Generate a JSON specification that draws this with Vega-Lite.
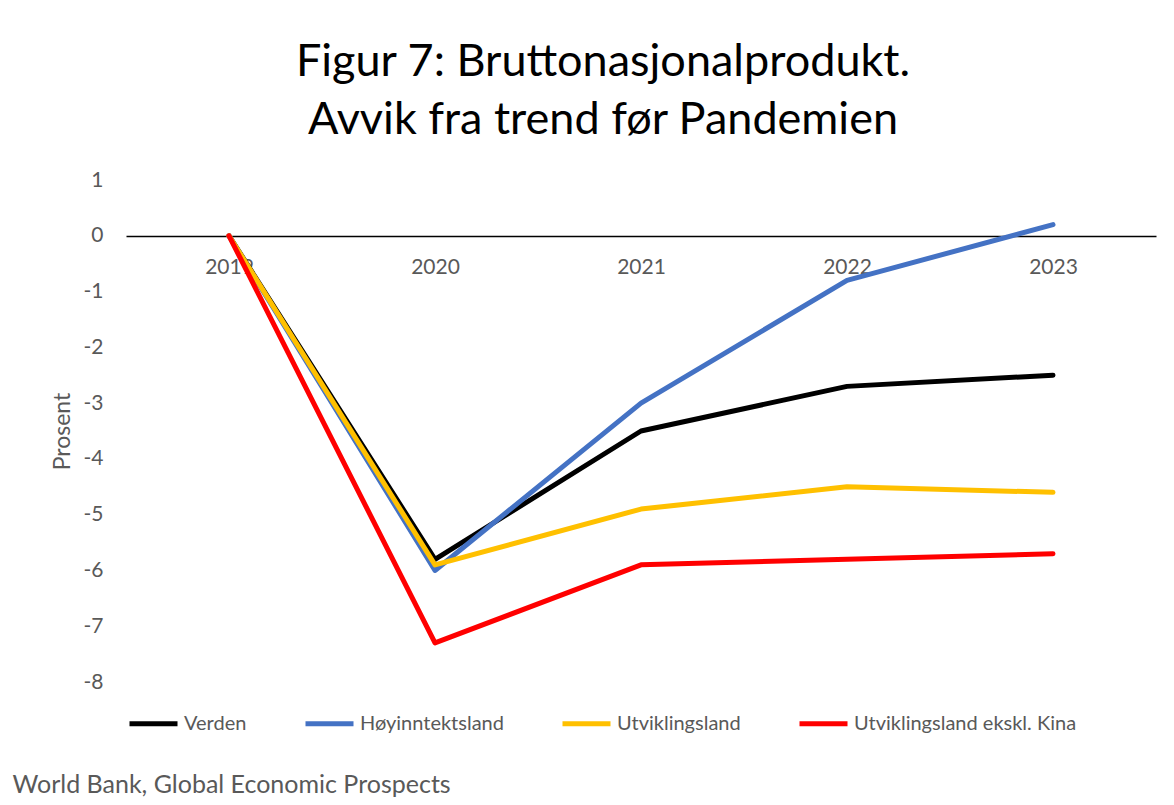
{
  "$schema": "https://vega.github.io/schema/vega-lite/v6.json",
  "autosize": "none",
  "width": 1030,
  "height": 502,
  "padding": {"left": 126, "top": 180, "right": 18, "bottom": 123},
  "background": "white",
  "config": {
    "view": {"stroke": null},
    "font": "Lato"
  },
  "title": {
    "text": ["Figur 7: Bruttonasjonalprodukt.", "Avvik fra trend før Pandemien"],
    "fontSize": 45,
    "font": "Lato",
    "fontWeight": "normal",
    "color": "#000000",
    "lineHeight": 58,
    "anchor": "middle",
    "dx": -38,
    "offset": 26
  },
  "data": {
    "values": [
      {"year": "2019", "serie": "Verden", "verdi": 0},
      {"year": "2020", "serie": "Verden", "verdi": -5.8},
      {"year": "2021", "serie": "Verden", "verdi": -3.5},
      {"year": "2022", "serie": "Verden", "verdi": -2.7},
      {"year": "2023", "serie": "Verden", "verdi": -2.5},
      {"year": "2019", "serie": "Høyinntektsland", "verdi": 0},
      {"year": "2020", "serie": "Høyinntektsland", "verdi": -6.0},
      {"year": "2021", "serie": "Høyinntektsland", "verdi": -3.0},
      {"year": "2022", "serie": "Høyinntektsland", "verdi": -0.8},
      {"year": "2023", "serie": "Høyinntektsland", "verdi": 0.2},
      {"year": "2019", "serie": "Utviklingsland", "verdi": 0},
      {"year": "2020", "serie": "Utviklingsland", "verdi": -5.9},
      {"year": "2021", "serie": "Utviklingsland", "verdi": -4.9},
      {"year": "2022", "serie": "Utviklingsland", "verdi": -4.5},
      {"year": "2023", "serie": "Utviklingsland", "verdi": -4.6},
      {"year": "2019", "serie": "Utviklingsland ekskl. Kina", "verdi": 0},
      {"year": "2020", "serie": "Utviklingsland ekskl. Kina", "verdi": -7.3},
      {"year": "2021", "serie": "Utviklingsland ekskl. Kina", "verdi": -5.9},
      {"year": "2022", "serie": "Utviklingsland ekskl. Kina", "verdi": -5.8},
      {"year": "2023", "serie": "Utviklingsland ekskl. Kina", "verdi": -5.7}
    ]
  },
  "mark": {"type": "line", "strokeWidth": 5, "strokeCap": "round", "strokeJoin": "round"},
  "encoding": {
    "x": {
      "field": "year",
      "type": "ordinal",
      "sort": null,
      "axis": {
        "orient": "bottom",
        "offset": -446,
        "labelAngle": 0,
        "labelFontSize": 21,
        "labelColor": "#595959",
        "labelPadding": 20,
        "ticks": false,
        "domainColor": "#000000",
        "domainWidth": 1.5,
        "grid": false,
        "title": "World Bank, Global Economic Prospects",
        "titleX": -114,
        "titleY": 548,
        "titleAnchor": "start",
        "titleAlign": "left",
        "titleBaseline": "middle",
        "titleFontSize": 25,
        "titleFontWeight": "normal",
        "titleColor": "#595959"
      }
    },
    "y": {
      "field": "verdi",
      "type": "quantitative",
      "scale": {"domain": [-8, 1], "nice": false, "zero": false},
      "axis": {
        "values": [-8, -7, -6, -5, -4, -3, -2, -1, 0, 1],
        "labelExpr": "toString(datum.value)",
        "title": "Prosent",
        "titleFontSize": 23,
        "titleFontWeight": "normal",
        "titleColor": "#595959",
        "titlePadding": 9,
        "labelFontSize": 21,
        "labelColor": "#595959",
        "labelPadding": 23,
        "ticks": false,
        "domain": false,
        "grid": false
      }
    },
    "color": {
      "field": "serie",
      "type": "nominal",
      "sort": null,
      "scale": {
        "domain": ["Verden", "Høyinntektsland", "Utviklingsland", "Utviklingsland ekskl. Kina"],
        "range": ["#000000", "#4472C4", "#FFC000", "#FF0000"]
      },
      "legend": {
        "orient": "none",
        "direction": "horizontal",
        "legendX": 1,
        "legendY": 517,
        "title": null,
        "symbolType": "stroke",
        "symbolSize": 2304,
        "symbolStrokeWidth": 5,
        "labelFontSize": 20,
        "labelColor": "#595959",
        "labelOffset": 4,
        "labelLimit": 400,
        "columnPadding": 48
      }
    }
  }
}
